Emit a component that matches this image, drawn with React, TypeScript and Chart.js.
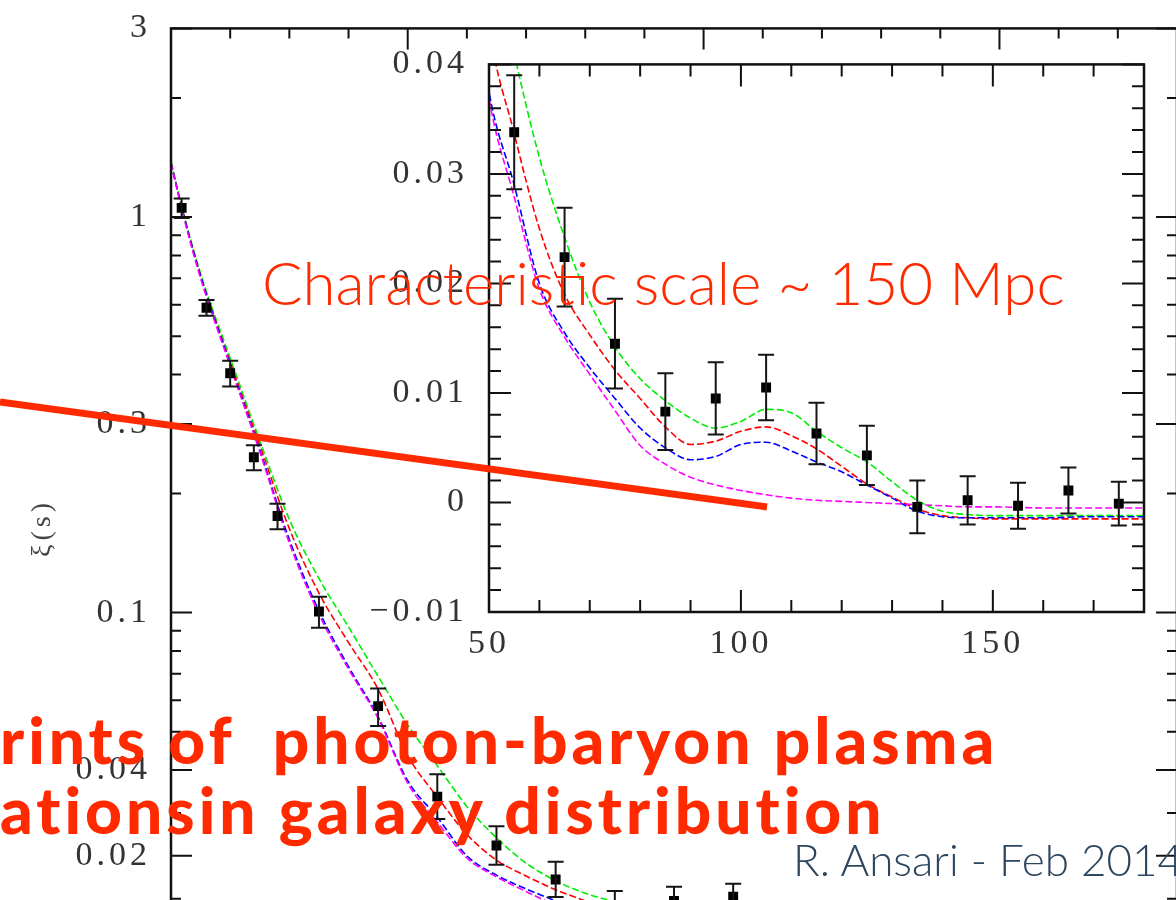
import React, { useEffect, useRef } from 'react';
import { Chart, registerables } from 'chart.js';
Chart.register(...registerables);

// ---------- data ----------
// separation grid (h^-1 Mpc) for the four model curves
const curveS = [10, 12, 15, 20, 25, 30, 35, 40, 45, 50, 55, 60, 65, 70, 75, 80, 85, 90, 95, 100, 105, 110, 115, 120, 125, 130, 135, 140, 145, 150, 160, 170, 180];
const greenXi = [1.38, 1.04, 0.72, 0.44, 0.272, 0.172, 0.122, 0.092, 0.069, 0.052, 0.041, 0.0315, 0.0242, 0.0183, 0.0142, 0.0113, 0.0093, 0.0077, 0.0068, 0.0074, 0.0085, 0.0082, 0.0065, 0.0050, 0.0037, 0.0019, 0.0002, -0.0008, -0.0011, -0.0012, -0.0012, -0.0012, -0.0012];
const redXi = [1.37, 1.03, 0.71, 0.43, 0.265, 0.163, 0.112, 0.084, 0.064, 0.0435, 0.0337, 0.0250, 0.0190, 0.0153, 0.0121, 0.0095, 0.0069, 0.0053, 0.0056, 0.0065, 0.0069, 0.0061, 0.0049, 0.0033, 0.0017, 0.0005, -0.0006, -0.0012, -0.0014, -0.0015, -0.0015, -0.0015, -0.0015];
const blueXi = [1.37, 1.03, 0.71, 0.425, 0.258, 0.153, 0.101, 0.073, 0.0545, 0.0375, 0.029, 0.0200, 0.0155, 0.0123, 0.0095, 0.0068, 0.0050, 0.0039, 0.0042, 0.0053, 0.0055, 0.0047, 0.0037, 0.0028, 0.0016, 0.0004, -0.0008, -0.0013, -0.0014, -0.0014, -0.0014, -0.0013, -0.0013];
const magentaXi = [1.37, 1.02, 0.70, 0.42, 0.255, 0.150, 0.099, 0.072, 0.054, 0.0369, 0.0279, 0.0195, 0.0151, 0.0117, 0.0084, 0.0052, 0.0035, 0.0023, 0.0016, 0.0011, 0.0007, 0.0004, 0.0002, 0.0001, 0.0, -0.0001, -0.0002, -0.0003, -0.0004, -0.0004, -0.0005, -0.0005, -0.0005];

// measured correlation function with 1-sigma errors
const pointS = [11.8, 16, 20, 24, 28, 35, 45, 55, 65, 75, 85, 95, 105, 115, 125, 135, 145, 155, 165, 175];
const pointXi = [1.055, 0.59, 0.403, 0.247, 0.1755, 0.1006, 0.058, 0.0338, 0.0224, 0.0145, 0.0083, 0.0095, 0.0105, 0.0063, 0.0043, -0.0004, 0.0002, -0.0003, 0.0011, -0.0001];
const pointErr = [0.06, 0.027, 0.03, 0.018, 0.013, 0.009, 0.0063, 0.0052, 0.0045, 0.0041, 0.0035, 0.0033, 0.003, 0.0028, 0.0027, 0.0024, 0.0022, 0.0021, 0.0021, 0.002];

// outer panel axis ticks
const outerYTickValues = [3, 1, 0.3, 0.1, 0.04, 0.02];
const outerYTickLabels = ['3', '1', '0.3', '0.1', '0.04', '0.02'];
const outerYMinor = [2, 0.9, 0.8, 0.7, 0.6, 0.5, 0.4, 0.2, 0.09, 0.08, 0.07, 0.06, 0.05, 0.03, 0.01, 0, -0.01];
const outerXMajor = [50, 100, 150];
const outerXMinor = [20, 30, 40, 60, 70, 80, 90, 110, 120, 130, 140, 160, 170];
const outerYTitle = '\u03BE(s)';

// inset axis ticks
const insetXTickValues = [50, 100, 150];
const insetXTickLabels = ['50', '100', '150'];
const insetXMinor = [60, 70, 80, 90, 110, 120, 130, 140, 160, 170];
const insetYTickValues = [0.04, 0.03, 0.02, 0.01, 0, -0.01];
const insetYTickLabels = ['0.04', '0.03', '0.02', '0.01', '0', '\u22120.01'];

// mixed log / linear vertical axis of the outer panel
const SWITCH = 0.04;
const T = (v: number) =>
  v >= SWITCH ? Math.log10(v) : Math.log10(SWITCH) + (v - SWITCH) / (SWITCH * Math.LN10);
const ident = (v: number) => v;

const SERIF = '"Liberation Serif", "Times New Roman", serif';
const GILL = 'Lato, "Open Sans", sans-serif';
const TICK_FONT = 34;

function framePlugin(cfg: any) {
  return {
    id: 'frame_' + cfg.id,
    beforeDraw(chart: any) {
      chart.ctx.letterSpacing = cfg.spacing;
    },
    afterDatasetsDraw(chart: any) {
      const { ctx, chartArea: a, scales } = chart;
      const xs = scales.x;
      const ys = scales.y;
      ctx.save();
      ctx.letterSpacing = '0px';
      // error bars
      ctx.save();
      ctx.beginPath();
      ctx.rect(a.left, a.top, a.right - a.left, a.bottom - a.top);
      ctx.clip();
      ctx.strokeStyle = '#151515';
      ctx.lineWidth = 2;
      pointS.forEach((s, i) => {
        const x = xs.getPixelForValue(s);
        const y1 = ys.getPixelForValue(cfg.fy(pointXi[i] + pointErr[i]));
        const y2 = ys.getPixelForValue(cfg.fy(pointXi[i] - pointErr[i]));
        ctx.beginPath();
        ctx.moveTo(x, y1);
        ctx.lineTo(x, y2);
        ctx.moveTo(x - cfg.cap, y1);
        ctx.lineTo(x + cfg.cap, y1);
        ctx.moveTo(x - cfg.cap, y2);
        ctx.lineTo(x + cfg.cap, y2);
        ctx.stroke();
      });
      ctx.restore();
      // frame
      ctx.strokeStyle = '#111';
      ctx.lineWidth = 2.5;
      ctx.strokeRect(a.left, a.top, a.right - a.left, a.bottom - a.top);
      ctx.lineWidth = 2;
      const xt = (v: number, len: number) => {
        const x = xs.getPixelForValue(v);
        ctx.beginPath();
        ctx.moveTo(x, a.top);
        ctx.lineTo(x, a.top + len);
        ctx.moveTo(x, a.bottom);
        ctx.lineTo(x, a.bottom - len);
        ctx.stroke();
      };
      const yt = (v: number, len: number) => {
        const y = ys.getPixelForValue(cfg.fy(v));
        ctx.beginPath();
        ctx.moveTo(a.left, y);
        ctx.lineTo(a.left + len, y);
        ctx.moveTo(a.right, y);
        ctx.lineTo(a.right - len, y);
        ctx.stroke();
      };
      cfg.xMajor.forEach((v: number) => xt(v, cfg.major));
      cfg.xMinor.forEach((v: number) => xt(v, cfg.minor));
      cfg.yMajor.forEach((v: number) => yt(v, cfg.major));
      cfg.yMinor.forEach((v: number) => yt(v, cfg.minor));
      // rotated y-axis title
      if (cfg.title) {
        ctx.save();
        ctx.letterSpacing = '4px';
        ctx.fillStyle = '#444';
        ctx.font = '28px ' + SERIF;
        ctx.textAlign = 'center';
        ctx.textBaseline = 'middle';
        ctx.translate(cfg.titleX, (a.top + a.bottom) / 2);
        ctx.rotate(-Math.PI / 2);
        ctx.fillText(cfg.title, 0, 0);
        ctx.restore();
      }
      ctx.restore();
    },
    afterDraw(chart: any) {
      chart.ctx.letterSpacing = '0px';
    },
  };
}

function buildDatasets(fy: (v: number) => number) {
  const curve = (vals: number[], color: string) => ({
    data: curveS.map((s, i) => ({ x: s, y: fy(vals[i]) })),
    borderColor: color,
    borderWidth: 1.6,
    borderDash: [7, 3],
    pointRadius: 0,
    fill: false,
    cubicInterpolationMode: 'monotone',
  });
  return [
    {
      data: pointS.map((s, i) => ({ x: s, y: fy(pointXi[i]) })),
      showLine: false,
      pointStyle: 'rect',
      pointRadius: 7,
      pointBackgroundColor: '#000',
      pointBorderWidth: 0,
      borderColor: '#000',
    },
    curve(magentaXi, '#ff00ff'),
    curve(blueXi, '#0000ff'),
    curve(redXi, '#ff0000'),
    curve(greenXi, '#00ee00'),
  ];
}

function OuterChart() {
  const ref = useRef<HTMLCanvasElement>(null);
  useEffect(() => {
    const canvas = ref.current as HTMLCanvasElement;
    const chart = new Chart(canvas, {
      type: 'line',
      data: { datasets: buildDatasets(T) as any },
      options: {
        responsive: false,
        animation: false,
        events: [],
        layout: { padding: { left: 0, right: 23, top: 0, bottom: 0 } },
        plugins: { legend: { display: false }, tooltip: { enabled: false } },
        scales: {
          x: { type: 'linear', min: 10, max: 180, display: false },
          y: {
            type: 'linear',
            min: T(-0.02),
            max: T(3),
            grid: { display: false, drawTicks: false },
            border: { display: false },
            afterBuildTicks: (ax: any) => {
              ax.ticks = outerYTickValues.map((v) => ({ value: T(v) }));
            },
            afterFit: (ax: any) => {
              ax.width = 171;
            },
            ticks: {
              callback: (_v: any, i: number) => outerYTickLabels[i],
              padding: 20,
              color: '#333',
              font: { family: SERIF, size: TICK_FONT },
              autoSkip: false,
            },
          },
        },
      } as any,
      plugins: [
        framePlugin({
          id: 'outer',
          fy: T,
          spacing: '4px',
          cap: 8,
          major: 21,
          minor: 10,
          xMajor: outerXMajor,
          xMinor: outerXMinor,
          yMajor: outerYTickValues,
          yMinor: outerYMinor,
          title: outerYTitle,
          titleX: 43,
        }),
      ],
    });
    canvas.style.top = 28 - chart.chartArea.top + 'px';
    return () => chart.destroy();
  }, []);
  return (
    <canvas
      ref={ref}
      width={1200}
      height={1080}
      style={{ position: 'absolute', left: 0, top: -12, width: 1200, height: 1080 }}
    />
  );
}

function InsetChart() {
  const ref = useRef<HTMLCanvasElement>(null);
  useEffect(() => {
    const canvas = ref.current as HTMLCanvasElement;
    const yMinor: number[] = [];
    for (let k = -5; k <= 20; k++) {
      if (k % 5 !== 0) yMinor.push(k * 0.002);
    }
    const chart = new Chart(canvas, {
      type: 'line',
      data: { datasets: buildDatasets(ident) as any },
      options: {
        responsive: false,
        animation: false,
        events: [],
        layout: { padding: { left: 0, right: 26, top: 0, bottom: 10 } },
        plugins: { legend: { display: false }, tooltip: { enabled: false } },
        scales: {
          x: {
            type: 'linear',
            min: 50,
            max: 180,
            grid: { display: false, drawTicks: false },
            border: { display: false },
            afterBuildTicks: (ax: any) => {
              ax.ticks = insetXTickValues.map((v) => ({ value: v }));
            },
            afterFit: (ax: any) => {
              ax.height = 58;
            },
            ticks: {
              callback: (_v: any, i: number) => insetXTickLabels[i],
              padding: 12,
              color: '#333',
              font: { family: SERIF, size: TICK_FONT },
              maxRotation: 0,
              autoSkip: false,
            },
          },
          y: {
            type: 'linear',
            min: -0.01,
            max: 0.04,
            grid: { display: false, drawTicks: false },
            border: { display: false },
            afterBuildTicks: (ax: any) => {
              ax.ticks = insetYTickValues.map((v) => ({ value: v }));
            },
            afterFit: (ax: any) => {
              ax.width = 149;
            },
            ticks: {
              callback: (_v: any, i: number) => insetYTickLabels[i],
              padding: 21,
              color: '#333',
              font: { family: SERIF, size: TICK_FONT },
              autoSkip: false,
            },
          },
        },
      } as any,
      plugins: [
        framePlugin({
          id: 'inset',
          fy: ident,
          spacing: '4px',
          cap: 8,
          major: 22,
          minor: 12,
          xMajor: insetXTickValues,
          xMinor: insetXMinor,
          yMajor: insetYTickValues,
          yMinor: yMinor,
        }),
      ],
    });
    canvas.style.top = 64 - chart.chartArea.top + 'px';
    return () => chart.destroy();
  }, []);
  return (
    <canvas
      ref={ref}
      width={830}
      height={657}
      style={{ position: 'absolute', left: 340, top: 23, width: 830, height: 657 }}
    />
  );
}

export default function App() {
  return (
    <div
      style={{
        position: 'fixed',
        left: 0,
        top: 0,
        width: 1176,
        height: 900,
        overflow: 'hidden',
        background: '#fff',
      }}
    >
      <OuterChart />
      <InsetChart />
      <svg
        width={1176}
        height={900}
        style={{ position: 'absolute', left: 0, top: 0, pointerEvents: 'none' }}
      >
        <line x1={0} y1={402} x2={767} y2={507} stroke="#ff2a00" strokeWidth={7} />
      </svg>
      <div
        style={{
          position: 'absolute',
          left: 262,
          top: 252,
          fontFamily: GILL,
          fontWeight: 300,
          fontSize: 60,
          lineHeight: 1,
          color: '#ff2a00',
          whiteSpace: 'nowrap',
        }}
      >
        Characteristic scale ~ 150 Mpc
      </div>
      <div
        style={{
          position: 'absolute',
          left: 0,
          top: 705,
          fontFamily: GILL,
          fontWeight: 900,
          fontSize: 64,
          letterSpacing: 4,
          lineHeight: '70px',
          color: '#ff2a00',
          whiteSpace: 'pre',
        }}
      >
        {'rints of  photon-baryon plasma\nationsin galaxy distribution'}
      </div>
      <div
        style={{
          position: 'absolute',
          left: 793,
          top: 837,
          fontFamily: GILL,
          fontWeight: 300,
          fontSize: 44,
          lineHeight: 1,
          color: '#2d4660',
          whiteSpace: 'nowrap',
        }}
      >
        R. Ansari - Feb 2014
      </div>
    </div>
  );
}
